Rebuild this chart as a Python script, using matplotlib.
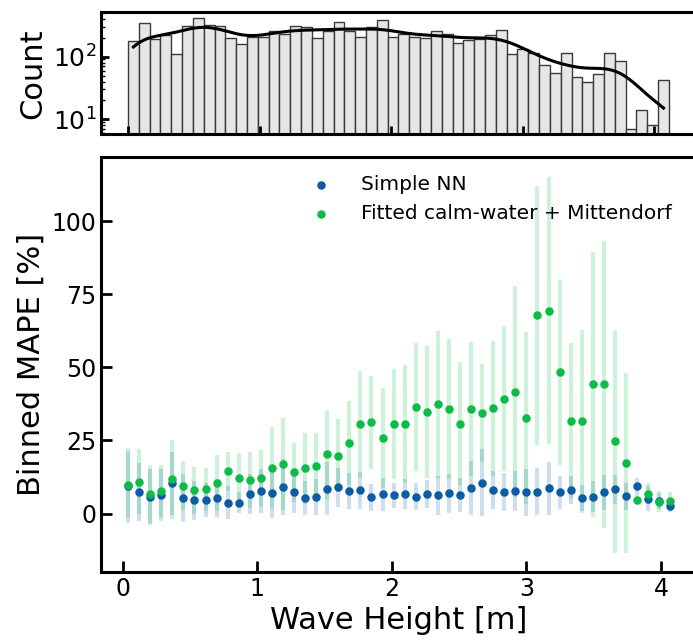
import numpy as np
import matplotlib.pyplot as plt
import seaborn as sns

# histogram of wave heights (50 bins)
bin_edges = np.linspace(0.0, 4.11, 51)
counts = [180, 341, 194, 224, 110, 312, 410, 320, 305, 199,
          160, 204, 204, 254, 233, 305, 294, 196, 260, 361,
          254, 206, 294, 380, 206, 228, 206, 201, 254, 230,
          165, 185, 189, 222, 270, 112, 131, 116, 73, 54,
          115, 48, 39, 52, 115, 85, 7, 14, 8, 42]
bin_centers = 0.5 * (bin_edges[:-1] + bin_edges[1:])

# binned MAPE [%] and std per bin
nn_mape = [9.4, 7.4, 5.7, 6.3, 10.3, 5.2, 4.5, 4.7, 5.3, 3.75,
           3.75, 6.6, 7.6, 6.9, 9.1, 7.3, 5.3, 5.7, 8.5, 9.0,
           7.7, 7.9, 5.5, 6.6, 6.3, 6.6, 5.7, 6.6, 6.3, 6.9,
           6.4, 8.7, 10.6, 8.1, 7.3, 7.6, 7.2, 7.5, 8.7, 7.3,
           8.1, 5.2, 5.8, 7.2, 8.3, 5.9, 9.3, 5.1, 4.3, 2.6]
nn_std = [12.7, 10.0, 9.7, 9.0, 10.8, 8.2, 6.6, 5.9, 6.4, 5.7,
          3.7, 6.8, 7.5, 8.3, 9.5, 7.2, 5.8, 6.2, 9.0, 6.7,
          6.1, 6.4, 4.6, 5.7, 4.3, 5.1, 4.6, 4.8, 6.7, 6.6,
          5.8, 9.2, 11.4, 6.4, 6.4, 6.8, 8.0, 8.0, 9.1, 5.6,
          4.9, 4.5, 5.2, 6.0, 5.0, 4.6, 2.9, 4.2, 2.8, 2.0]
fit_mape = [9.7, 10.9, 6.6, 7.7, 11.7, 9.45, 7.9, 8.3, 10.5, 14.4,
            12.3, 11.4, 12.0, 15.7, 17.0, 14.1, 15.5, 16.4, 20.3, 19.8,
            24.1, 30.5, 31.2, 25.9, 30.6, 30.7, 36.6, 34.8, 37.4, 35.7,
            30.8, 35.9, 34.4, 36.0, 39.3, 41.7, 32.6, 67.9, 69.4, 48.3,
            31.8, 31.6, 44.2, 44.2, 24.7, 17.2, 4.7, 6.8, 4.0, 4.2]
fit_std = [11.3, 11.1, 9.9, 8.8, 13.5, 8.4, 8.1, 7.3, 9.5, 6.7,
           8.3, 9.5, 9.7, 13.9, 15.8, 10.2, 12.2, 11.3, 15.2, 12.4,
           14.5, 18.3, 15.9, 17.2, 18.8, 20.2, 21.9, 22.5, 25.1, 24.0,
           21.1, 22.9, 16.7, 23.1, 24.8, 36.0, 29.5, 44.3, 45.7, 31.7,
           26.7, 31.3, 45.4, 49.2, 38.2, 30.8, 1.8, 3.7, 3.6, 3.0]

blue = '#0b5ca5'
green = '#0dbb47'

fig = plt.figure(figsize=(6.93, 6.40), dpi=100)
ax_top = fig.add_axes([0.1457, 0.790, 0.8586, 0.191])
ax = fig.add_axes([0.1457, 0.1063, 0.8586, 0.6484])

# top: histogram + kde
samples = np.repeat(bin_centers, counts)
sns.histplot(x=samples, bins=bin_edges, kde=True, ax=ax_top,
             color='#e6e6e6', alpha=1, edgecolor='#3a3a3a', linewidth=1)
ax_top.lines[-1].set_color('black')
ax_top.lines[-1].set_linewidth(2.2)
ax_top.set_yscale('log')
ax_top.set_ylim(5.77, 510)
ax_top.set_xlim(-0.2055, 4.3155)
ax_top.set_xticks([0, 1, 2, 3, 4])
ax_top.set_xticklabels([])
ax_top.set_xlabel('')
ax_top.set_ylabel('Count', fontsize=22)
ax_top.tick_params(axis='both', which='major', direction='in', length=6, width=2,
                   labelsize=18)
ax_top.tick_params(axis='y', which='minor', direction='in', length=3, width=1)

# bottom: binned MAPE
ax.errorbar(bin_centers, nn_mape, yerr=nn_std, fmt='none', ecolor=blue,
            elinewidth=3, alpha=0.2, zorder=1)
ax.errorbar(bin_centers, fit_mape, yerr=fit_std, fmt='none', ecolor=green,
            elinewidth=3, alpha=0.2, zorder=1)
ax.scatter(bin_centers, nn_mape, s=26, color=blue, zorder=3, label='Simple NN')
ax.scatter(bin_centers, fit_mape, s=26, color=green, zorder=4,
           label='Fitted calm-water + Mittendorf')

ax.set_xlim(-0.16, 4.26)
ax.set_ylim(-20, 122)
ax.set_xticks([0, 1, 2, 3, 4])
ax.set_yticks([0, 25, 50, 75, 100])
ax.set_xlabel('Wave Height [m]', fontsize=22)
ax.set_ylabel('Binned MAPE [%]', fontsize=22)
ax.tick_params(direction='in', length=8, width=2, labelsize=17)
ax.legend(loc='upper left', bbox_to_anchor=(0.305, 1.0), frameon=False,
          fontsize=14.5, handletextpad=1.0)

for a in (ax, ax_top):
    for sp in a.spines.values():
        sp.set_linewidth(2.2)

fig.savefig('out.png', dpi=100)
